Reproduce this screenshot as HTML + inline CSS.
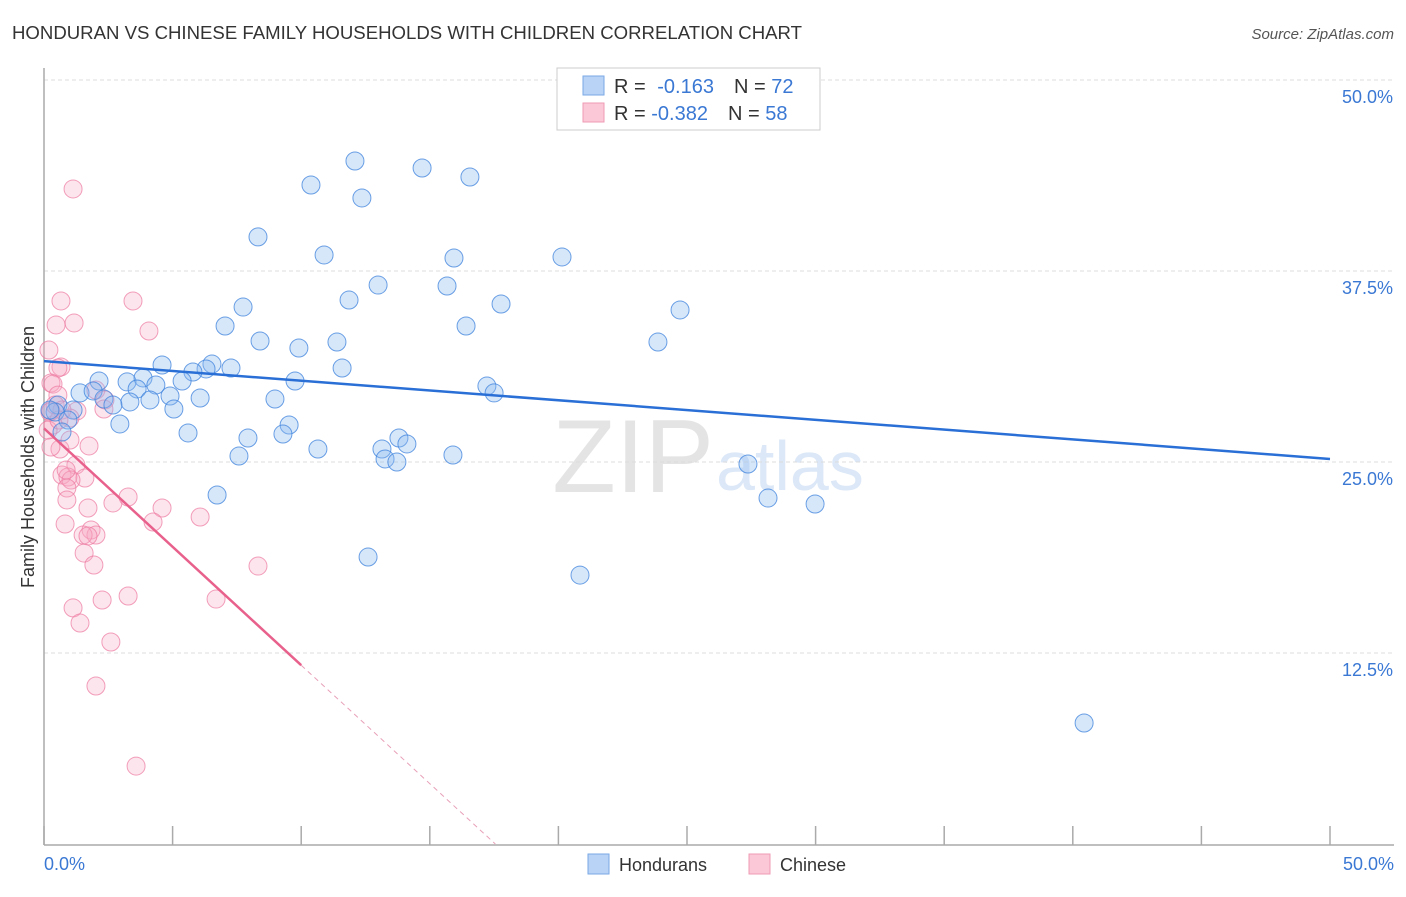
<!DOCTYPE html>
<html><head><meta charset="utf-8"><style>
body{margin:0;background:#fff;font-family:"Liberation Sans",sans-serif}
svg text{font-family:"Liberation Sans",sans-serif}
</style></head><body>
<svg id="c" width="1406" height="892" xmlns="http://www.w3.org/2000/svg">
<text x="12" y="39" font-size="18.6" fill="#333">HONDURAN VS CHINESE FAMILY HOUSEHOLDS WITH CHILDREN CORRELATION CHART</text>
<text x="1394" y="39" font-size="15" fill="#555" text-anchor="end" font-style="italic">Source: ZipAtlas.com</text>
<text x="714" y="492" font-size="104" fill="#e4e4e4" text-anchor="end" font-family="Liberation Serif">ZIP</text>
<text x="716" y="490" font-size="70" fill="#dce8f7">atlas</text>
<g id="grid"></g>
<line x1="44" y1="68" x2="44" y2="845" stroke="#aaa" stroke-width="1.5"/>
<line x1="44" y1="845" x2="1394" y2="845" stroke="#aaa" stroke-width="1.5"/>
<text transform="translate(34,457) rotate(-90)" font-size="18" fill="#333" text-anchor="middle">Family Households with Children</text>
<text x="44" y="870" font-size="18" fill="#3a78d4">0.0%</text>
<text x="1394" y="870" font-size="18" fill="#3a78d4" text-anchor="end">50.0%</text>
<g id="pts"></g>
<g id="lines"></g>
<g>
<rect x="557" y="68" width="263" height="62" fill="#fff" stroke="#ccc"/>
<rect x="583" y="76" width="21" height="19" fill="#b8d3f5" stroke="#7aaae6"/>
<rect x="583" y="103" width="21" height="19" fill="#fbc8d8" stroke="#ef9bb6"/>
<text x="614" y="93" font-size="20" fill="#333">R = <tspan fill="#3a78d4" dx="6">-0.163</tspan><tspan dx="20" fill="#333">N = </tspan><tspan fill="#3a78d4">72</tspan></text>
<text x="614" y="120" font-size="20" fill="#333">R = <tspan fill="#3a78d4">-0.382</tspan><tspan dx="20" fill="#333">N = </tspan><tspan fill="#3a78d4">58</tspan></text>
</g>
<g>
<rect x="588" y="854" width="21" height="20" fill="#b8d3f5" stroke="#7aaae6"/>
<text x="619" y="871" font-size="18" fill="#333">Hondurans</text>
<rect x="749" y="854" width="21" height="20" fill="#fbc8d8" stroke="#ef9bb6"/>
<text x="780" y="871" font-size="18" fill="#333">Chinese</text>
</g>
</svg>
<script>
const yTicks=[12.5,25,37.5,50];
const yTickLabels=["12.5%","25.0%","37.5%","50.0%"];
const xTicks=[0,5,10,15,20,25,30,35,40,45,50];
const bluePx=[[311,185],[355,161],[362,198],[422,168],[470,177],[258,237],[324,255],[454,258],[562,257],[378,285],[447,286],[349,300],[501,304],[243,307],[680,310],[225,326],[466,326],[260,341],[337,342],[658,342],[299,348],[162,365],[342,368],[212,364],[206,369],[231,368],[193,372],[127,382],[143,378],[182,381],[156,385],[99,381],[295,381],[487,386],[494,393],[80,393],[93,391],[137,389],[104,399],[130,402],[150,400],[170,396],[200,398],[275,399],[113,405],[174,409],[58,405],[73,410],[55,412],[68,420],[62,432],[120,424],[289,425],[188,433],[248,438],[283,434],[399,438],[407,444],[318,449],[382,449],[239,456],[385,459],[397,462],[453,455],[748,464],[217,495],[768,498],[815,504],[368,557],[580,575],[1084,723],[50,410]];
const pinkPx=[[73,189],[61,301],[133,301],[56,325],[74,323],[149,331],[49,350],[61,367],[58,368],[51,383],[53,384],[96,390],[105,400],[58,395],[50,412],[77,411],[104,409],[53,425],[70,418],[89,446],[60,449],[51,447],[76,465],[62,475],[68,477],[85,478],[71,480],[67,488],[113,503],[128,497],[162,508],[88,508],[67,500],[153,522],[200,517],[65,524],[91,530],[96,535],[83,535],[88,536],[84,553],[94,565],[128,596],[102,600],[73,608],[216,599],[258,566],[80,623],[111,642],[96,686],[136,766],[51,411],[55,405],[48,430],[62,410],[70,440],[59,420],[66,470]];
const blueX=bluePx.map(p=>+((p[0]-44)/25.72).toFixed(2));
const blueY=bluePx.map(p=>+((844-p[1])/15.28).toFixed(2));
const pinkX=pinkPx.map(p=>+((p[0]-44)/25.72).toFixed(2));
const pinkY=pinkPx.map(p=>+((844-p[1])/15.28).toFixed(2));
const blueTrend=[31.6,25.2];
const pinkTrend=[27.2,11.7];
const pinkSolidEnd=10;
const X=v=>44+v*25.72, Y=v=>844-v*15.28;
const NS="http://www.w3.org/2000/svg";
function mk(t,a,p){const e=document.createElementNS(NS,t);for(const k in a)e.setAttribute(k,a[k]);p.appendChild(e);return e;}
const g=document.getElementById('grid');
yTicks.forEach((t,i)=>{
 const l=mk('line',{x1:44,x2:1394,y1:Y(t),y2:Y(t),stroke:'#ddd','stroke-dasharray':'4,3'},g);
 
 
 const tx=mk('text',{x:1393,y:Y(t)+23,'font-size':18,fill:'#3a78d4','text-anchor':'end'},g);
 tx.textContent=yTickLabels[i];
 
 
});
xTicks.forEach(t=>{
 const l=mk('line',{x1:X(t),x2:X(t),y1:826,y2:845,stroke:'#aaa','stroke-width':1.5},g);
 
 
});
const pg=document.getElementById('pts');
pinkX.forEach((x,i)=>{
 const c=mk('circle',{cx:X(x),cy:Y(pinkY[i]),r:9,fill:'rgba(248,170,196,0.3)',stroke:'rgba(236,120,160,0.7)','stroke-width':1},pg);
 
 
});
blueX.forEach((x,i)=>{
 const c=mk('circle',{cx:X(x),cy:Y(blueY[i]),r:9,fill:'rgba(140,185,240,0.35)',stroke:'rgba(60,130,220,0.75)','stroke-width':1},pg);
 
 
});
const lg=document.getElementById('lines');
const bl=mk('line',{x1:X(0),y1:Y(blueTrend[0]),x2:X(50),y2:Y(blueTrend[1]),stroke:'#2a6fd6','stroke-width':2.5},lg);


const pAt=x=>pinkTrend[0]+(pinkTrend[1]-pinkTrend[0])*x/pinkSolidEnd;
const pl=mk('line',{x1:X(0),y1:Y(pAt(0)),x2:X(pinkSolidEnd),y2:Y(pAt(pinkSolidEnd)),stroke:'#e8608c','stroke-width':2.5},lg);


const xz=-pinkTrend[0]*pinkSolidEnd/(pinkTrend[1]-pinkTrend[0]);
const pd=mk('line',{x1:X(pinkSolidEnd),y1:Y(pAt(pinkSolidEnd)),x2:X(xz),y2:Y(0),stroke:'#e8a0b8','stroke-width':1,'stroke-dasharray':'5,4'},lg);


</script>
</body></html>
